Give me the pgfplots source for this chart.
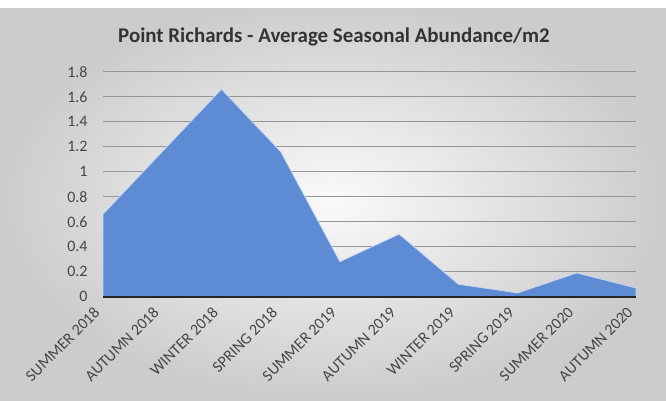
\documentclass[border=0pt]{standalone}
\usepackage{pgfplots}
\pgfplotsset{compat=1.18}
\usepackage{fontspec}
\setmainfont{Carlito}
\definecolor{areablue}{RGB}{93,139,212}
\definecolor{txt}{RGB}{70,70,70}
\definecolor{gridc}{RGB}{150,150,150}
\begin{document}
\begin{tikzpicture}[x=1bp,y=1bp]
\shade[inner color=white!96!gray, outer color=black!20] (0,0) rectangle (666,400);
\fill[white] (0,392) rectangle (666,400);
\node[font=\fontsize{21}{24}\selectfont\bfseries, text=black!80] at (334,363) {Point Richards - Average Seasonal Abundance/m2};
\begin{axis}[
  at={(103bp,103.3bp)}, anchor=south west,
  scale only axis, width=533bp, height=225bp,
  xmin=0, xmax=9, ymin=0, ymax=1.8,
  axis line style={draw=none},
  xtick={0,...,9},
  xticklabels={SUMMER 2018,AUTUMN 2018,WINTER 2018,SPRING 2018,SUMMER 2019,AUTUMN 2019,WINTER 2019,SPRING 2019,SUMMER 2020,AUTUMN 2020},
  xticklabel style={xshift=-6bp, yshift=-13bp, rotate=45, anchor=east, inner sep=0pt, font=\fontsize{16}{18}\selectfont, text=txt},
  ytick={0,0.2,...,1.8},
  yticklabels={0,0.2,0.4,0.6,0.8,1,1.2,1.4,1.6,1.8},
  yticklabel style={xshift=-12bp, font=\fontsize{16}{18}\selectfont, text=txt},
  /pgf/number format/assume math mode=true,
  major tick length=0pt,
  ymajorgrids, grid style={gridc, line width=0.9bp},
  clip=false,
]
\addplot[fill=areablue, draw=white!65!areablue, line width=0.8bp] coordinates {
(0,0.66) (1,1.16) (2,1.66) (3,1.16) (4,0.28) (5,0.50) (6,0.10) (7,0.03) (8,0.19) (9,0.07)
} \closedcycle;
\addplot[black!85, line width=1.6bp] coordinates {(0,0) (9,0)};
\end{axis}
\end{tikzpicture}
\end{document}
